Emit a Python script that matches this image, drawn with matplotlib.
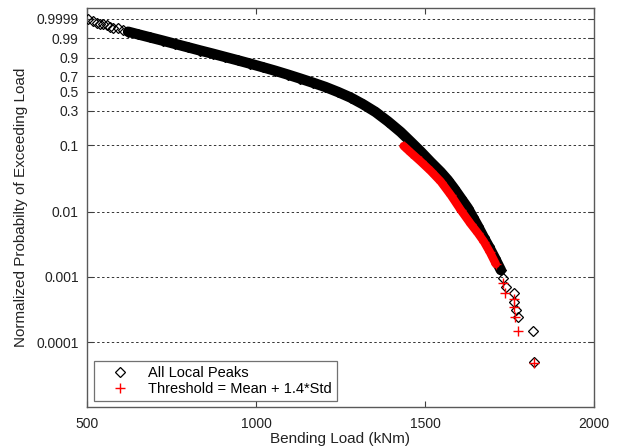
import numpy as np
import matplotlib
matplotlib.use("Agg")
import matplotlib.pyplot as plt

plt.rcParams['font.family'] = ['Liberation Sans', 'DejaVu Sans']

# ---- data ----
# All local peaks: sparse top points
peaks_top_load = [502, 518.7, 528.8, 538.5, 548.3, 558.4, 568.2, 578, 592.8, 607.6]
peaks_top_prob = [0.99988, 0.99978, 0.99966, 0.99955, 0.99942, 0.99925, 0.99902,
                  0.99877, 0.99845, 0.99805]
# All local peaks: dense band
peaks_band_load = [621.6, 649.7, 686.8, 723.8, 760.9, 797.9, 835.0, 872.1, 909.1, 946.2,
                   983.2, 1020.3, 1057.4, 1094.4, 1131.5, 1168.5, 1205.6, 1242.7, 1279.7,
                   1316.8, 1353.8, 1390.9, 1428.0, 1457.6, 1487.2, 1516.9, 1546.5, 1567.3,
                   1585.1, 1605.8, 1626.6, 1641.4, 1656.2, 1674.0, 1688.8, 1706.6, 1724.4]
peaks_band_prob = [0.99689, 0.99494, 0.99109, 0.98525, 0.9765, 0.96456, 0.9488, 0.9297,
                   0.9058, 0.8778, 0.8451, 0.8074, 0.7657, 0.7187, 0.6675, 0.6143, 0.5589,
                   0.4964, 0.4315, 0.3586, 0.2870, 0.2148, 0.1537, 0.1118, 0.0804, 0.05617,
                   0.0398, 0.03016, 0.0228, 0.01608, 0.01131, 0.00825, 0.00601, 0.00401,
                   0.00292, 0.00195, 0.00127]
# All local peaks: sparse tail
peaks_tail_load = [1729.4, 1739.3, 1763.9, 1763.9, 1769, 1774, 1820, 1823]
peaks_tail_prob = [9.51e-4, 7.06e-4, 5.71e-4, 4.16e-4, 3.10e-4, 2.39e-4, 1.49e-4, 5.0e-5]

# Threshold exceedances (Mean + 1.4*Std)
thr_band_load = [1436.8, 1457.6, 1487.2, 1516.9, 1546.5, 1576.2, 1605.8, 1635.5, 1656.2,
                 1674.0, 1691.8, 1709.6]
thr_band_prob = [0.0968, 0.0777, 0.0572, 0.0412, 0.0286, 0.01787, 0.01055, 0.00645,
                 0.00470, 0.00348, 0.00240, 0.00157]
thr_tail_load = [1729.4, 1736.3, 1762, 1764, 1766, 1774, 1823]
thr_tail_prob = [7.96e-4, 5.71e-4, 4.52e-4, 3.41e-4, 2.44e-4, 1.48e-4, 4.82e-5]

ytick_vals = [0.0001, 0.001, 0.01, 0.1, 0.3, 0.5, 0.7, 0.9, 0.99, 0.9999]
ytick_labels = ['0.0001', '0.001', '0.01', '0.1', '0.3', '0.5', '0.7', '0.9', '0.99', '0.9999']
xticks = [500, 1000, 1500, 2000]


# Weibull probability scale
def fwd(p):
    p = np.clip(np.asarray(p, dtype=float), 1e-12, 1 - 1e-15)
    return np.log10(-np.log1p(-p))


def inv(z):
    return -np.expm1(-np.power(10.0, np.asarray(z, dtype=float)))


fig = plt.figure(figsize=(6.18, 4.48), dpi=100)
ax = fig.add_axes([87 / 618, 1 - 407 / 448, (594 - 87) / 618, (407 - 7.7) / 448])
ax.set_yscale('function', functions=(fwd, inv))

all_load = peaks_top_load + peaks_band_load + peaks_tail_load
all_prob = peaks_top_prob + peaks_band_prob + peaks_tail_prob
thr_load = thr_band_load + thr_tail_load
thr_prob = thr_band_prob + thr_tail_prob

# dense overlapping markers rendered as a thick band
ax.plot(peaks_band_load, peaks_band_prob, '-', color='k', lw=7.5,
        solid_capstyle='round', solid_joinstyle='round', zorder=2)
l1, = ax.plot(all_load, all_prob, 'D', mfc='none', mec='k', ms=5.0, mew=0.9,
              ls='none', zorder=3, label='All Local Peaks')
ax.plot(thr_band_load, thr_band_prob, '-', color='#ff0000', lw=6,
        solid_capstyle='round', solid_joinstyle='round', zorder=4)
l2, = ax.plot(thr_load, thr_prob, '+', color='#ff0000', ms=6.5, mew=1.0,
              ls='none', zorder=5, label='Threshold = Mean + 1.4*Std')

ax.set_xlim(500, 2000)
ax.set_ylim(inv(-4.997), inv(1.13))
ax.set_xticks(xticks)
ax.set_xticklabels([str(v) for v in xticks])
ax.set_yticks(ytick_vals)
ax.set_yticklabels(ytick_labels)
ax.minorticks_off()
ax.yaxis.set_minor_locator(matplotlib.ticker.NullLocator())

ax.tick_params(direction='in', length=4, width=0.8, top=True, right=True,
               labelsize=10, colors='0.25', labelcolor='#222222')
ax.tick_params(axis='y', pad=6)
ax.tick_params(axis='x', pad=7)
for s in ax.spines.values():
    s.set_color('0.35')
    s.set_linewidth(1.0)

ax.grid(axis='y', color='0.2', linestyle=(0, (2.5, 2.5)), linewidth=0.7)
ax.grid(axis='x', visible=False)
ax.set_axisbelow(True)

ax.set_xlabel('Bending Load (kNm)', fontsize=11, color='#222222', labelpad=1)
ax.set_ylabel('Normalized Probabilty of Exceeding Load', fontsize=11,
              color='#222222', labelpad=6)

leg = ax.legend(handles=[l1, l2], loc='lower left', fontsize=10.5, frameon=True,
                fancybox=False, edgecolor='0.3', borderpad=0.35, labelspacing=0.12,
                handlelength=2.8, handletextpad=0.55, borderaxespad=0,
                bbox_to_anchor=(7 / 507, 6 / 399.3))
leg.get_frame().set_linewidth(0.9)

fig.savefig('out.png', dpi=100)
